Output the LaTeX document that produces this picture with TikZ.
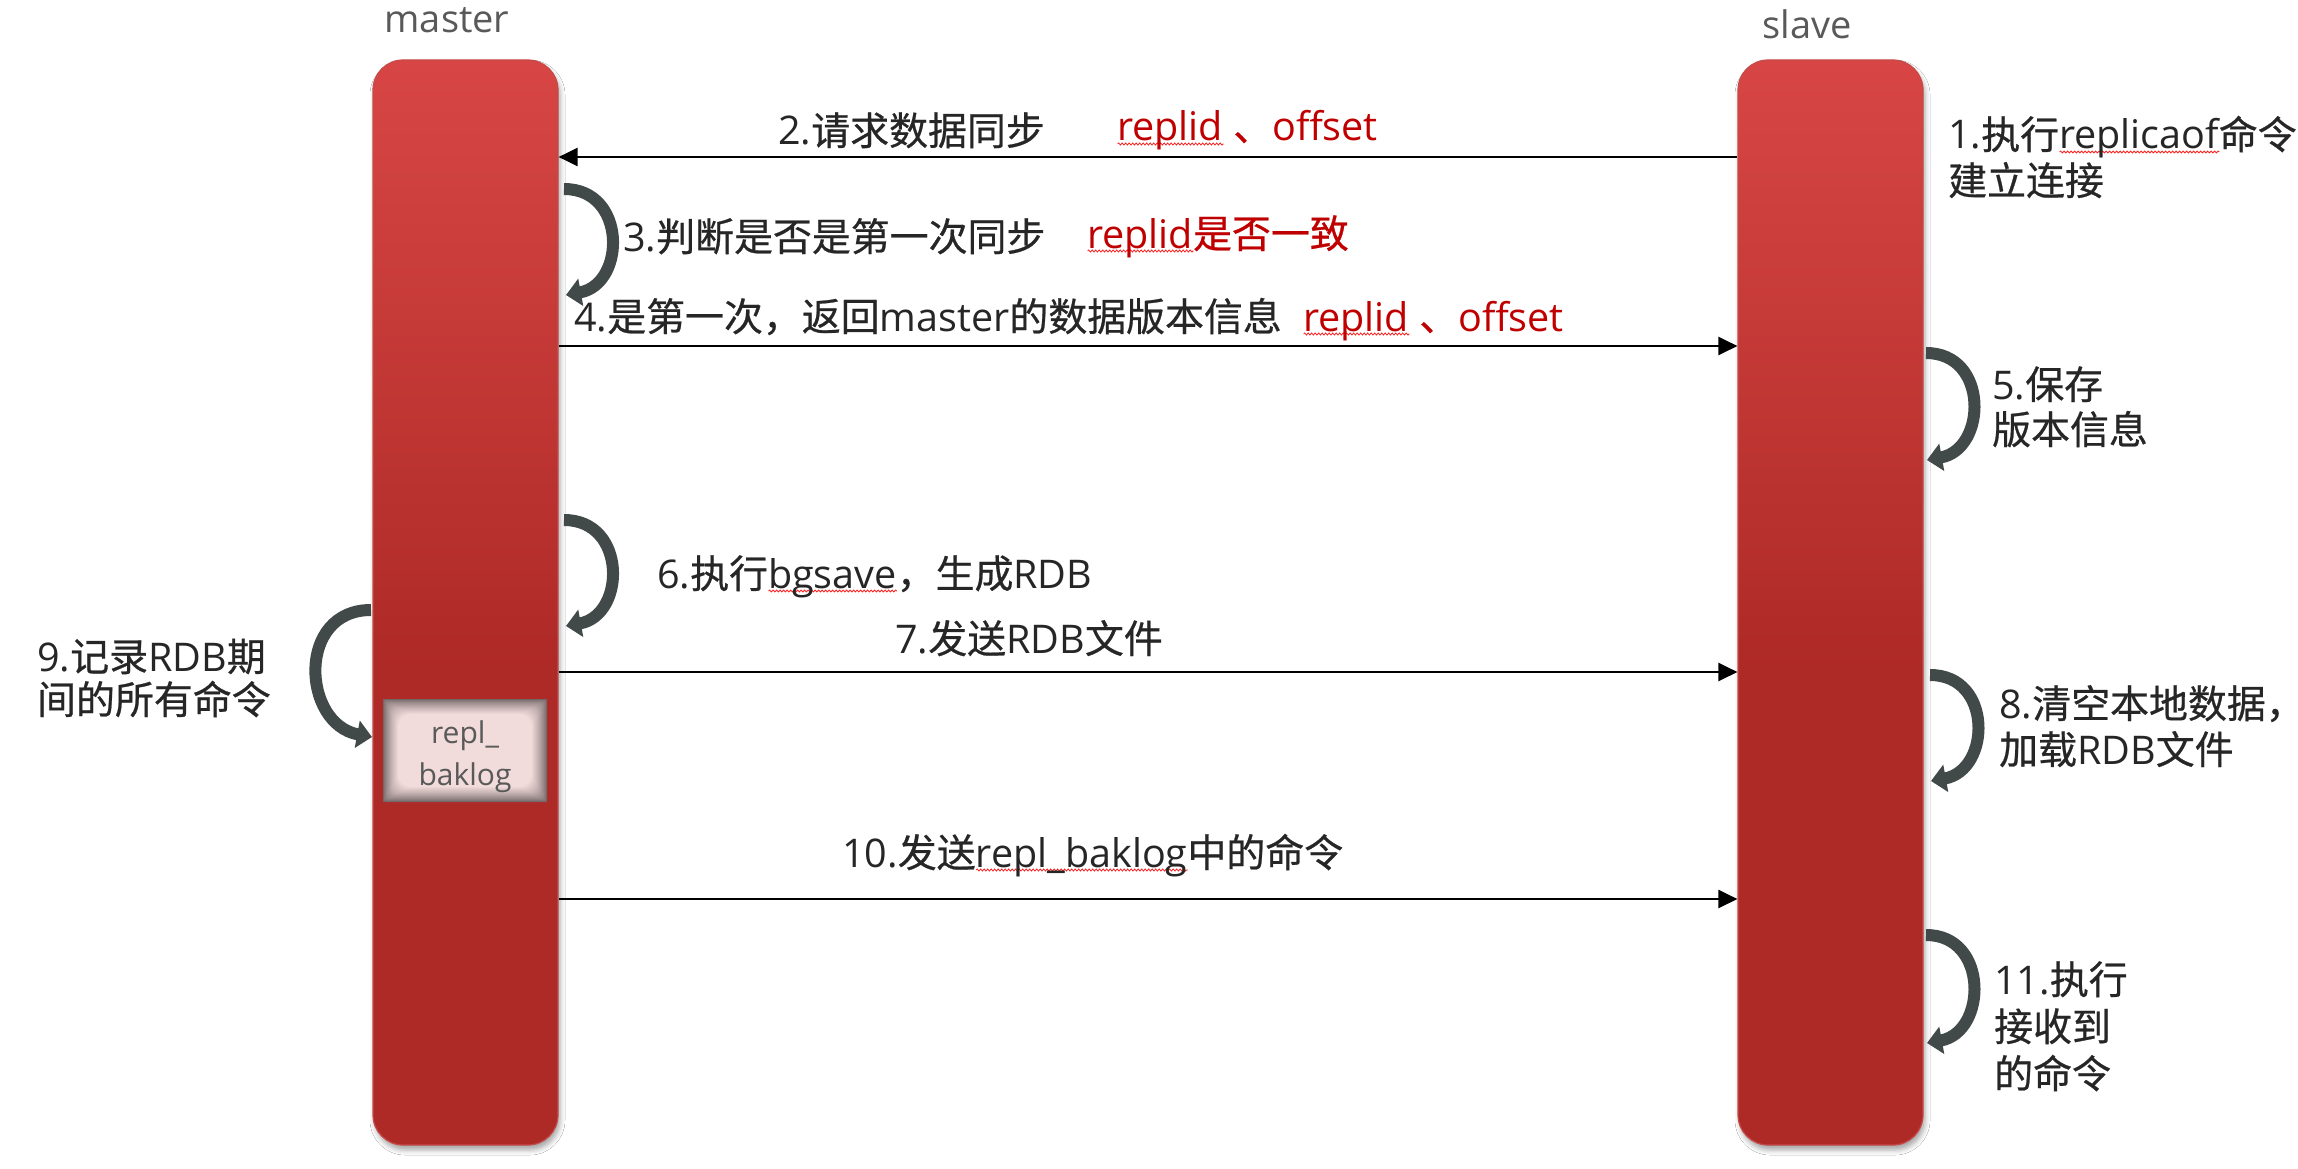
\documentclass[tikz,border=0pt]{standalone}
\usepackage{fontspec}
\setmainfont{Open Sans}
\newfontfamily\cjk[FakeBold=0.6,Scale=0.985]{Noto Sans CJK SC}
\usetikzlibrary{arrows.meta,shadows.blur,decorations.pathmorphing}
\definecolor{barT}{HTML}{D74644}
\definecolor{barB}{HTML}{AE2A27}
\definecolor{barEdge}{HTML}{C44B49}
\definecolor{txt}{HTML}{262626}
\definecolor{lbl}{HTML}{595959}
\definecolor{redt}{HTML}{C00000}
\definecolor{curvc}{HTML}{424A49}
\definecolor{boxpink}{HTML}{F2DCDB}
\definecolor{boxedge}{HTML}{756768}
\definecolor{wavyc}{HTML}{FF2020}
\pgfdeclareverticalshading{barshade}{100bp}{color(0bp)=(barB); color(47bp)=(barB); color(75bp)=(barT); color(100bp)=(barT)}
\newcommand\C[1]{{\cjk #1}}
\newsavebox\wavybox
\newlength\wavylen
\tikzset{
  wavyline/.style={draw=wavyc, line width=0.8pt, decorate, decoration={snake, amplitude=1pt, segment length=3.5pt}},
  bar/.style={shade, shading=barshade, rounded corners=30pt, draw=barEdge, line width=1.2pt,
    minimum width=185pt, minimum height=1085pt, inner sep=0pt,
    blur shadow={shadow xshift=2pt, shadow yshift=-5pt, shadow blur radius=5pt, shadow opacity=35}},
  lab/.style={anchor=base west, inner sep=0pt, text=txt, font=\fontsize{39.5}{46}\selectfont},
  redlab/.style={lab, text=redt},
  head/.style={anchor=base, inner sep=0pt, text=lbl, font=\fontsize{38}{45}\selectfont},
  boxtxt/.style={anchor=base, inner sep=0pt, text=lbl, font=\fontsize{30}{40}\selectfont},
  flow/.style={draw=black, line width=2.5pt, -{Triangle[length=19pt,width=18pt]}},
  curv/.style={draw=curvc, line width=12pt, -{Triangle[length=15pt,width=27pt]}}
}
\newcommand\wavy[1]{\sbox\wavybox{#1}\setlength\wavylen{\wd\wavybox}\rlap{\tikz[baseline=0pt]\draw[wavyline] (0pt,-3pt) -- (\wavylen,-3pt);}\usebox\wavybox}
\begin{document}
\begin{tikzpicture}[x=1pt,y=-1pt]
\useasboundingbox (0,0) rectangle (2298,1169);
\fill[white] (0,0) rectangle (2298,1169);

% bars
\node[bar] (M) at (465.5,602.5) {};
\node[bar] (S) at (1830.5,602.5) {};

% repl_baklog box with inner glow
\foreach \i in {0,...,15}{
  \pgfmathsetmacro\p{100*(\i/15)^0.8}
  \pgfmathsetmacro\rc{0.5+\i*0.8}
  \fill[boxpink!\p!boxedge, rounded corners=\rc pt] (383+\i,699+\i) rectangle (547-\i,802-\i);
}
\node[boxtxt] (B1) at (465,743) {repl\_};
\node[boxtxt] (B2) at (465,785) {baklog};

% headings
\node[head] (ml) at (447,33) {master};
\node[head] (sl) at (1807,39) {slave};

% straight arrows
\draw[flow] (S.west |- 0,157) -- (M.east |- 0,157);
\draw[flow] (M.east |- 0,346) -- (S.west |- 0,346);
\draw[flow] (M.east |- 0,672) -- (S.west |- 0,672);
\draw[flow] (M.east |- 0,899) -- (S.west |- 0,899);

% curved self arrows
\coordinate (c3s) at (564,189);  \coordinate (c3e) at (566,295);
\coordinate (c6s) at (564,520);  \coordinate (c6e) at (566,626);
\coordinate (c5s) at (1926,353); \coordinate (c5e) at (1927,460);
\coordinate (c8s) at (1930,675); \coordinate (c8e) at (1931,781);
\coordinate (c11s) at (1926,935); \coordinate (c11e) at (1927,1043);
\coordinate (c9s) at (371,610);  \coordinate (c9e) at (372,737);
\draw[curv] (c3s) .. controls +(63,0) and +(60,-11) .. (c3e);
\draw[curv] (c6s) .. controls +(63,0) and +(60,-11) .. (c6e);
\draw[curv] (c5s) .. controls +(63,0) and +(60,-11) .. (c5e);
\draw[curv] (c8s) .. controls +(63,0) and +(60,-11) .. (c8e);
\draw[curv] (c11s) .. controls +(63,0) and +(60,-11) .. (c11e);
\draw[curv] (c9s) .. controls +(-75,0) and +(-70,-13) .. (c9e);

% texts
\node[lab] (t1a) at (1948,149) {1.\C{执行}\wavy{replicaof}\C{命\rlap{令}}};
\node[lab] (t1b) at (1948,195) {\C{建立连接}};
\node[lab] (t2) at (778,145) {2.\C{请求数据同步}};
\node[redlab] (r2) at (1117,141) {\wavy{replid} \C{、}offset};
\node[lab] (t3) at (623,251) {3.\C{判断是否是第一次同步}};
\node[redlab] (r3) at (1087,248) {\wavy{replid}\C{是否一致}};
\node[lab] (t4) at (574,331) {4.\C{是第一次，返回}master\C{的数据版本信息}};
\node[redlab] (r4) at (1303,331) {\wavy{replid} \C{、}offset};
\node[lab] (t5a) at (1992,399) {5.\C{保存}};
\node[lab] (t5b) at (1992,444) {\C{版本信息}};
\node[lab] (t6) at (657,588) {6.\C{执行}\wavy{bgsave}\C{，生成}RDB};
\node[lab] (t7) at (895,653) {7.\C{发送}RDB\C{文件}};
\node[lab] (t8a) at (1999,718) {8.\C{清空本地数据\rlap{，}}};
\node[lab] (t8b) at (1999,764) {\C{加载}RDB\C{文件}};
\node[lab] (t9a) at (37,671) {9.\C{记录}RDB\C{期}};
\node[lab] (t9b) at (37,714) {\C{间的所有命令}};
\node[lab] (t10) at (842,867) {10.\C{发送}\wavy{repl\_baklog}\C{中的命令}};
\node[lab] (t11a) at (1994,994) {11.\C{执行}};
\node[lab] (t11b) at (1994,1041) {\C{接收到}};
\node[lab] (t11c) at (1994,1088) {\C{的命令}};
\end{tikzpicture}
\end{document}
